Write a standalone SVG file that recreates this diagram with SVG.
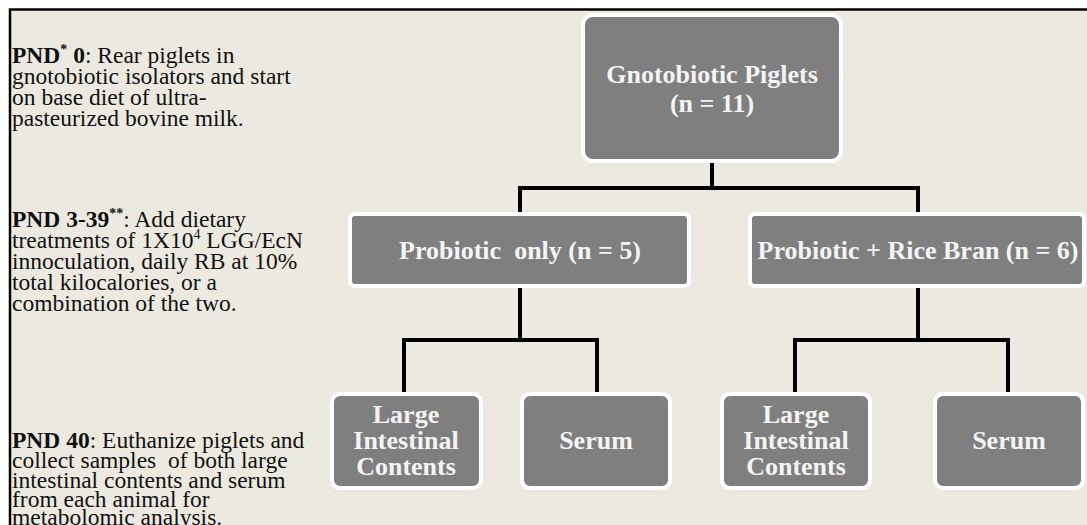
<svg xmlns="http://www.w3.org/2000/svg" width="1087" height="525" viewBox="0 0 1087 525">
  <style>
    .frame { fill: #ECEAE0; }
    .border { stroke: #000; stroke-width: 2.5; fill: none; }
    .box { fill: #7F7F7F; stroke: #FFFFFF; stroke-width: 4; }
    .lbl { font-family: "Liberation Serif", "Times New Roman", serif; font-weight: bold; font-size: 26px; fill: #F4F4F4; text-anchor: middle; white-space: pre; }
    .note { font-family: "Liberation Serif", "Times New Roman", serif; font-size: 23.5px; fill: #111; white-space: pre; }
    .b { font-weight: bold; }
    .sup { font-size: 14px; }
    .conn { stroke: #000; stroke-width: 4; fill: none; stroke-linecap: square; }
  </style>

  <!-- page and panel -->
  <rect width="1087" height="525" fill="#FFFFFF"/>
  <rect class="frame" x="10" y="10" width="1077" height="515"/>
  <path class="border" d="M10,525 V9.5 H1087"/>

  <!-- timeline notes -->
  <g id="notes">
    <text class="note" x="12" y="63"><tspan class="b">PND<tspan class="sup" dy="-9">*</tspan><tspan dy="9"> 0</tspan></tspan>: Rear piglets in</text>
    <text class="note" x="12" y="84">gnotobiotic isolators and start</text>
    <text class="note" x="12" y="105">on base diet of ultra-</text>
    <text class="note" x="12" y="126">pasteurized bovine milk.</text>

    <text class="note" x="12" y="227"><tspan class="b">PND 3-39<tspan class="sup" dy="-9">**</tspan></tspan><tspan dy="9">: Add dietary</tspan></text>
    <text class="note" x="12" y="248">treatments of 1X10<tspan class="sup" dy="-9">4</tspan><tspan dy="9"> LGG/EcN</tspan></text>
    <text class="note" x="12" y="269">innoculation, daily RB at 10%</text>
    <text class="note" x="12" y="290">total kilocalories, or a</text>
    <text class="note" x="12" y="311">combination of the two.</text>

    <text class="note" x="12" y="448"><tspan class="b">PND 40</tspan>: Euthanize piglets and</text>
    <text class="note" x="12" y="468">collect samples  of both large</text>
    <text class="note" x="12" y="488">intestinal contents and serum</text>
    <text class="note" x="12" y="507">from each animal for</text>
    <text class="note" x="12" y="525">metabolomic analysis.</text>
  </g>

  <!-- connectors -->
  <g id="connectors">
    <path class="conn" d="M712,163 V188 M520,188 H918 M520,188 V212 M918,188 V212"/>
    <path class="conn" d="M520,288 V340 M404,340 H597 M404,340 V392 M597,340 V392"/>
    <path class="conn" d="M918,288 V340 M795,340 H1008 M795,340 V392 M1008,340 V392"/>
  </g>

  <!-- nodes -->
  <g id="node-piglets">
    <rect class="box" x="583" y="15" width="258" height="146" rx="10"/>
    <text class="lbl" x="712" y="83">Gnotobiotic Piglets</text>
    <text class="lbl" x="712" y="112">(n = 11)</text>
  </g>

  <g id="node-probiotic">
    <rect class="box" x="350" y="214" width="339" height="72" rx="5"/>
    <text class="lbl" x="520" y="259">Probiotic  only (n = 5)</text>
  </g>

  <g id="node-probiotic-rb">
    <rect class="box" x="750" y="214" width="334" height="72" rx="5"/>
    <text class="lbl" x="918" y="259">Probiotic + Rice Bran (n = 6)</text>
  </g>

  <g id="node-lic-1">
    <rect class="box" x="332" y="394" width="149" height="94" rx="8"/>
    <text class="lbl" x="406" y="423">Large</text>
    <text class="lbl" x="406" y="449">Intestinal</text>
    <text class="lbl" x="406" y="475">Contents</text>
  </g>

  <g id="node-serum-1">
    <rect class="box" x="522" y="394" width="148" height="94" rx="8"/>
    <text class="lbl" x="596" y="449">Serum</text>
  </g>

  <g id="node-lic-2">
    <rect class="box" x="722" y="394" width="148" height="94" rx="8"/>
    <text class="lbl" x="796" y="423">Large</text>
    <text class="lbl" x="796" y="449">Intestinal</text>
    <text class="lbl" x="796" y="475">Contents</text>
  </g>

  <g id="node-serum-2">
    <rect class="box" x="935" y="394" width="148" height="94" rx="8"/>
    <text class="lbl" x="1009" y="449">Serum</text>
  </g>
</svg>
